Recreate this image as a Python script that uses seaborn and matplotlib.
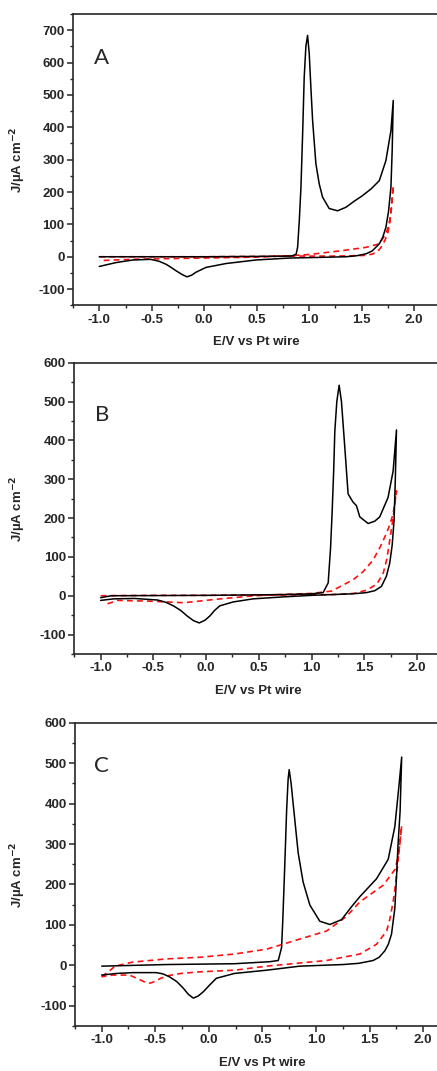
import numpy as np
import pandas as pd
import matplotlib
matplotlib.use("Agg")
import matplotlib.pyplot as plt
import seaborn as sns
from matplotlib.ticker import MultipleLocator, FormatStrFormatter

# ---------------- data ----------------
# panel A
a_black_x = [-1.0, -0.5, 0.0, 0.5, 0.8, 0.84, 0.875, 0.889, 0.905, 0.921, 0.937, 0.952, 0.968, 0.984,
             1.0, 1.016, 1.032, 1.063, 1.095, 1.127, 1.19, 1.27, 1.35, 1.43, 1.508, 1.59, 1.667,
             1.73, 1.778, 1.80,
             1.79, 1.778, 1.755, 1.73, 1.7, 1.667, 1.6, 1.54, 1.45, 1.35, 1.1, 0.81, 0.492, 0.206,
             0.016, -0.08, -0.12, -0.165, -0.21, -0.27, -0.32, -0.365, -0.43, -0.51, -0.68, -0.84, -1.0]
a_black_y = [0, 0, 0, 1, 2, 3, 8, 29, 110, 215, 380, 555, 650, 684,
             627, 520, 421, 288, 225, 184, 149, 142, 153, 172, 189, 210, 235,
             297, 390, 483,
             330, 215, 140, 91, 60, 40, 18, 9, 3, 0, -2, -4, -10, -21,
             -33, -48, -57, -62, -55, -43, -32, -23, -14, -8, -10, -18, -30]
a_red_x = [-1.0, -0.5, 0.0, 0.5, 0.9, 1.2, 1.4, 1.52, 1.6, 1.65, 1.683, 1.72, 1.746, 1.765, 1.778, 1.8,
           1.79, 1.778, 1.755, 1.73, 1.667, 1.54, 1.317, 1.0, 0.8, 0.5, 0.0, -0.4, -0.7, -1.0]
a_red_y = [0, 0, 0, 1, 2, 2, 3, 4, 8, 16, 29, 50, 71, 100, 140, 220,
           180, 133, 95, 71, 40, 29, 19, 7, 3, -1, -4, -6, -8, -12]

# panel B
b_black_x = [-1.0, -0.9, 0.0, 0.73, 1.0, 1.11, 1.158, 1.18, 1.195, 1.21, 1.221, 1.24, 1.262, 1.284,
             1.316, 1.347, 1.394, 1.426, 1.458, 1.537, 1.6, 1.647, 1.726, 1.774, 1.806,
             1.795, 1.783, 1.765, 1.742, 1.71, 1.663, 1.6, 1.52, 1.394, 1.0, 0.73, 0.447, 0.257,
             0.13, 0.08, 0.036, -0.01, -0.065, -0.12, -0.18, -0.24, -0.31, -0.38, -0.46, -0.68,
             -0.874, -1.0]
b_black_y = [-5, 0, 1, 3, 5, 8, 33, 120, 211, 320, 423, 500, 542, 500,
             381, 262, 241, 232, 203, 186, 192, 203, 253, 321, 427,
             300, 194, 130, 84, 50, 24, 13, 8, 5, 1, -3, -8, -16,
             -26, -38, -52, -63, -70, -64, -52, -38, -26, -17, -11, -7,
             -8, -12]
b_red_x = [-1.0, -0.5, 0.0, 0.4, 0.8, 1.2, 1.4, 1.52, 1.62, 1.68, 1.715, 1.742, 1.774, 1.806,
           1.79, 1.774, 1.745, 1.71, 1.65, 1.584, 1.49, 1.394, 1.19, 1.0, 0.6, 0.415, 0.1, -0.21,
           -0.53, -0.84, -0.97]
b_red_y = [0, 1, 1, 2, 2, 3, 6, 14, 30, 58, 95, 143, 200, 270,
           240, 211, 185, 160, 125, 92, 62, 41, 12, 6, 2, -1, -9, -18,
           -14, -12, -24]

# panel C
c_black_x = [-1.0, -0.39, 0.24, 0.57, 0.648, 0.679, 0.69, 0.70, 0.713, 0.726, 0.74, 0.75, 0.768,
             0.787, 0.81, 0.834, 0.88, 0.943, 1.036, 1.13, 1.239, 1.332, 1.41, 1.565, 1.674,
             1.736, 1.776, 1.80,
             1.785, 1.767, 1.75, 1.736, 1.705, 1.675, 1.643, 1.59, 1.534, 1.4, 1.254, 0.85, 0.54,
             0.24, 0.07, 0.01, -0.05, -0.1, -0.145, -0.19, -0.24, -0.3, -0.37, -0.43, -0.49,
             -0.71, -0.86, -1.0]
c_black_y = [-2, 2, 4, 9, 12, 44, 110, 182, 280, 383, 460, 484, 450,
             400, 340, 278, 206, 149, 109, 101, 113, 145, 170, 214, 262,
             343, 448, 515,
             380, 303, 210, 141, 77, 52, 36, 20, 12, 5, 2, -2, -12,
             -20, -32, -48, -65, -76, -81, -72, -56, -40, -28, -21, -18,
             -18, -20, -24]
c_red_x = [-1.0, -0.92, -0.875, -0.71, -0.39, -0.08, 0.24, 0.54, 0.787, 1.1, 1.285, 1.41, 1.627,
           1.74, 1.775, 1.80, 1.767, 1.745, 1.72, 1.69, 1.66, 1.565, 1.41, 1.1, 0.54, 0.24, -0.08,
           -0.26, -0.37, -0.45, -0.5, -0.55, -0.6, -0.64, -0.69, -0.74, -0.9, -1.0]
c_red_y = [-28, -12, -2, 8, 16, 20, 28, 40, 60, 85, 121, 157, 198,
           238, 280, 345, 262, 205, 157, 115, 85, 52, 28, 12, -2, -12, -16,
           -20, -25, -32, -40, -44, -41, -36, -30, -24, -24, -28]

panels = [
    ("A", a_black_x, a_black_y, a_red_x, a_red_y, 750),
    ("B", b_black_x, b_black_y, b_red_x, b_red_y, 600),
    ("C", c_black_x, c_black_y, c_red_x, c_red_y, 600),
]

# ---------------- style ----------------
sns.set_style("ticks")
plt.rcParams['font.family'] = ['Liberation Sans', 'DejaVu Sans']
plt.rcParams['axes.linewidth'] = 1.2
plt.rcParams['axes.unicode_minus'] = False

W, H = 437, 1071
fig = plt.figure(figsize=(W / 100, H / 100), dpi=100)

# axes boxes in pixels: left, top, width, bottom
boxes = [(73, 14, 367.5, 305.3), (74.3, 362.7, 369, 654), (74.9, 722.7, 375, 1026)]
letter_pos = [(0.057, 0.85), (0.056, 0.82), (0.051, 0.857)]

for (letter, bx, by, rx, ry, ytop), (l, t, w, b), lp in zip(panels, boxes, letter_pos):
    h = b - t
    ax = fig.add_axes([l / W, (H - b) / H, w / W, h / H])
    df_k = pd.DataFrame({"E": bx, "J": by})
    df_r = pd.DataFrame({"E": rx, "J": ry})
    sns.lineplot(data=df_r, x="E", y="J", sort=False, estimator=None, ax=ax,
                 color="#ff1010", lw=1.2, linestyle=(0, (3.5, 2.5)))
    sns.lineplot(data=df_k, x="E", y="J", sort=False, estimator=None, ax=ax,
                 color="black", lw=1.1)
    ax.set_xlim(-1.25, 2.25)
    ax.set_ylim(-150, ytop)
    ax.xaxis.set_major_locator(MultipleLocator(0.5))
    ax.xaxis.set_minor_locator(MultipleLocator(0.25))
    ax.set_yticks(np.arange(-100, ytop + 1, 100))
    ax.yaxis.set_minor_locator(MultipleLocator(50))
    ax.tick_params(which="major", direction="out", length=4, width=1.1,
                   labelsize=9.5, pad=2)
    ax.tick_params(which="minor", direction="out", length=2.5, width=1.0)
    ax.xaxis.set_major_formatter(FormatStrFormatter("%.1f"))
    ax.yaxis.set_major_formatter(FormatStrFormatter("%d"))
    for lab in ax.get_xticklabels() + ax.get_yticklabels():
        lab.set_fontweight("bold")
    ax.spines["right"].set_visible(False)
    ax.set_xlabel("E/V vs Pt wire", fontsize=9.5, fontweight="bold")
    ax.xaxis.set_label_coords(0.5, -31 / h)
    ax.set_ylabel("J/µA cm$^{\\mathbf{-2}}$", fontsize=9.5, fontweight="bold")
    ax.yaxis.set_label_coords((28 - l) / w, 0.5)
    ax.text(lp[0], lp[1], letter, transform=ax.transAxes, fontsize=16,
            family=["Lato", "DejaVu Sans"], ha="left", va="center")

fig.savefig("out.png", dpi=100)
